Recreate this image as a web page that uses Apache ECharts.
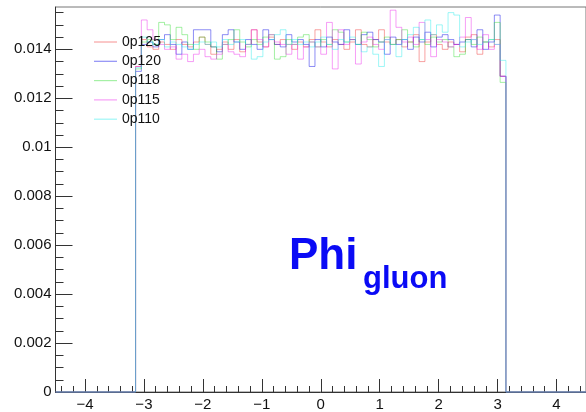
<!DOCTYPE html>
<html>
<head>
<meta charset="utf-8">
<script src="https://cdn.jsdelivr.net/npm/echarts@6/dist/echarts.min.js"></script>
<style>
  html, body { margin: 0; padding: 0; background: #ffffff; }
  #chart { width: 586px; height: 412px; }
</style>
</head>
<body>
<div id="chart"></div>
<script>
// Gluon azimuthal angle, normalised histograms for five samples (64 bins over -pi..pi)
const seriesNames = ['0p125', '0p120', '0p118', '0p115', '0p110'];
const seriesColors = ['rgba(240,50,50,0.45)', 'rgba(30,30,235,0.5)', 'rgba(40,220,40,0.42)', 'rgba(235,40,235,0.45)', 'rgba(40,235,235,0.45)'];

const phiLow = -Math.PI;
const phiHigh = Math.PI;
const nBins = 64;
const axisMin = -4.5;
const axisMax = 4.5;

const val0p125 = [
  0.01330, 0.01440, 0.01410, 0.01400, 0.01430, 0.01420, 0.01400, 0.01440, 0.01420, 0.01410,
  0.01430, 0.01450, 0.01420, 0.01380, 0.01400, 0.01430, 0.01400, 0.01440, 0.01390, 0.01420,
  0.01480, 0.01430, 0.01410, 0.01450, 0.01420, 0.01440, 0.01420, 0.01400, 0.01430, 0.01410,
  0.01440, 0.01480, 0.01430, 0.01410, 0.01440, 0.01420, 0.01400, 0.01430, 0.01480, 0.01420,
  0.01410, 0.01440, 0.01480, 0.01430, 0.01420, 0.01440, 0.01410, 0.01430, 0.01460, 0.01350,
  0.01430, 0.01460, 0.01420, 0.01400, 0.01430, 0.01420, 0.01390, 0.01450, 0.01460, 0.01380,
  0.01430, 0.01410, 0.01440, 0.01290
];
const val0p120 = [
  0.01310, 0.01420, 0.01430, 0.01410, 0.01440, 0.01460, 0.01420, 0.01380, 0.01430, 0.01400,
  0.01480, 0.01480, 0.01480, 0.01410, 0.01390, 0.01460, 0.01480, 0.01430, 0.01400, 0.01440,
  0.01420, 0.01400, 0.01480, 0.01440, 0.01420, 0.01410, 0.01460, 0.01430, 0.01440, 0.01420,
  0.01330, 0.01440, 0.01410, 0.01450, 0.01430, 0.01420, 0.01480, 0.01440, 0.01420, 0.01460,
  0.01470, 0.01440, 0.01430, 0.01380, 0.01450, 0.01420, 0.01440, 0.01400, 0.01450, 0.01430,
  0.01470, 0.01410, 0.01450, 0.01460, 0.01440, 0.01420, 0.01430, 0.01440, 0.01410, 0.01480,
  0.01400, 0.01430, 0.01540, 0.01290
];
const val0p118 = [
  0.01320, 0.01430, 0.01440, 0.01420, 0.01510, 0.01500, 0.01440, 0.01490, 0.01460, 0.01420,
  0.01400, 0.01450, 0.01430, 0.01410, 0.01360, 0.01420, 0.01440, 0.01480, 0.01430, 0.01410,
  0.01440, 0.01420, 0.01450, 0.01460, 0.01360, 0.01370, 0.01440, 0.01420, 0.01450, 0.01460,
  0.01430, 0.01410, 0.01440, 0.01420, 0.01480, 0.01470, 0.01430, 0.01440, 0.01420, 0.01470,
  0.01440, 0.01410, 0.01430, 0.01450, 0.01420, 0.01440, 0.01480, 0.01430, 0.01410, 0.01440,
  0.01420, 0.01450, 0.01430, 0.01440, 0.01410, 0.01370, 0.01380, 0.01440, 0.01420, 0.01450,
  0.01430, 0.01440, 0.01510, 0.01265
];
const val0p115 = [
  0.01330, 0.01520, 0.01480, 0.01440, 0.01420, 0.01400, 0.01410, 0.01360, 0.01380, 0.01350,
  0.01380, 0.01400, 0.01370, 0.01360, 0.01380, 0.01420, 0.01390, 0.01380, 0.01370, 0.01420,
  0.01480, 0.01440, 0.01410, 0.01460, 0.01430, 0.01420, 0.01380, 0.01420, 0.01360, 0.01410,
  0.01430, 0.01410, 0.01380, 0.01510, 0.01320, 0.01480, 0.01420, 0.01440, 0.01340, 0.01430,
  0.01450, 0.01420, 0.01400, 0.01440, 0.01560, 0.01490, 0.01430, 0.01450, 0.01420, 0.01510,
  0.01440, 0.01370, 0.01440, 0.01430, 0.01410, 0.01420, 0.01450, 0.01530, 0.01440, 0.01400,
  0.01460, 0.01400, 0.01420, 0.01290
];
const val0p110 = [
  0.01325, 0.01450, 0.01430, 0.01420, 0.01440, 0.01410, 0.01430, 0.01420, 0.01410, 0.01400,
  0.01420, 0.01430, 0.01420, 0.01430, 0.01410, 0.01440, 0.01420, 0.01430, 0.01440, 0.01420,
  0.01360, 0.01370, 0.01430, 0.01440, 0.01460, 0.01480, 0.01420, 0.01440, 0.01420, 0.01430,
  0.01410, 0.01430, 0.01450, 0.01420, 0.01400, 0.01440, 0.01430, 0.01450, 0.01420, 0.01390,
  0.01410, 0.01380, 0.01330, 0.01440, 0.01420, 0.01370, 0.01440, 0.01460, 0.01490, 0.01440,
  0.01520, 0.01460, 0.01500, 0.01470, 0.01550, 0.01540, 0.01410, 0.01430, 0.01440, 0.01420,
  0.01430, 0.01440, 0.01420, 0.01355
];
const allValues = [val0p125, val0p120, val0p118, val0p115, val0p110];

const xMajorTicks = [-4, -3, -2, -1, 0, 1, 2, 3, 4];
const yMajorTicks = [0, 0.002, 0.004, 0.006, 0.008, 0.01, 0.012, 0.014];

// minor tick positions: 0.2 on x, 0.0005 on y
const xMinorTicks = [];
for (let i = -22; i <= 22; i++) { if (i % 5 !== 0) xMinorTicks.push(i / 5); }
const yMinorTicks = [];
for (let i = 1; i <= 31; i++) { if (i % 4 !== 0) yMinorTicks.push(i * 0.0005); }

const FONT = '"Liberation Sans", Arial, Helvetica, sans-serif';
const AXIS_COLOR = '#333333';

// histogram outline as step points: empty range at zero, then one point per bin
function histPoints(vals) {
  const w = (phiHigh - phiLow) / nBins;
  const pts = [[axisMin, 0]];
  vals.forEach((v, i) => pts.push([phiLow + i * w, v]));
  pts.push([phiHigh, 0]);
  pts.push([axisMax, 0]);
  return pts;
}

const chart = echarts.init(document.getElementById('chart'), null, { renderer: 'canvas' });

const option = {
  animation: false,
  backgroundColor: '#ffffff',
  grid: {
    left: 55.5, top: 7, width: 540, bottom: 17,
    show: true, borderColor: '#777777', borderWidth: 1, backgroundColor: 'transparent'
  },
  legend: {
    orient: 'vertical',
    left: 94, top: 35, padding: 0,
    icon: 'rect',
    itemWidth: 23, itemHeight: 1.2, itemGap: 5.3,
    textStyle: { fontFamily: FONT, fontSize: 14, color: '#111111', lineHeight: 14 },
    data: seriesNames
  },
  xAxis: [
    {
      type: 'value', min: axisMin, max: axisMax,
      splitLine: { show: false },
      axisLine: { show: true, onZero: false, lineStyle: { color: AXIS_COLOR, width: 1 } },
      axisTick: { show: true, inside: true, length: 13, customValues: xMajorTicks, lineStyle: { color: AXIS_COLOR } },
      axisLabel: {
        show: true, customValues: xMajorTicks, margin: 5,
        fontFamily: FONT, fontSize: 15, color: '#111111',
        formatter: v => String(v).replace('-', '\u2212')
      }
    },
    {
      type: 'value', min: axisMin, max: axisMax, position: 'bottom',
      splitLine: { show: false },
      axisLine: { show: false, onZero: false },
      axisTick: { show: true, inside: true, length: 6, customValues: xMinorTicks, lineStyle: { color: AXIS_COLOR } },
      axisLabel: { show: false }
    }
  ],
  yAxis: [
    {
      type: 'value', min: 0, max: 0.01573,
      splitLine: { show: false },
      axisLine: { show: true, onZero: false, lineStyle: { color: AXIS_COLOR, width: 1 } },
      axisTick: { show: true, inside: true, length: 17, customValues: yMajorTicks, lineStyle: { color: AXIS_COLOR } },
      axisLabel: {
        show: true, customValues: yMajorTicks, margin: 4,
        fontFamily: FONT, fontSize: 15, color: '#111111',
        formatter: v => String(v)
      }
    },
    {
      type: 'value', min: 0, max: 0.01573, position: 'left',
      splitLine: { show: false },
      axisLine: { show: false, onZero: false },
      axisTick: { show: true, inside: true, length: 8, customValues: yMinorTicks, lineStyle: { color: AXIS_COLOR } },
      axisLabel: { show: false }
    }
  ],
  series: seriesNames.map((name, i) => ({
    name: name,
    type: 'line',
    step: 'end',
    xAxisIndex: 0,
    yAxisIndex: 0,
    symbol: 'none',
    clip: false,
    itemStyle: { color: seriesColors[i] },
    lineStyle: { color: seriesColors[i], width: 1 },
    data: histPoints(allValues[i])
  })),
  graphic: [
    {
      type: 'text', left: 289, top: 235,
      style: { text: 'Phi', font: 'bold 44px ' + FONT, fill: '#0a0af5' }
    },
    {
      type: 'text', left: 363, top: 264,
      style: { text: 'gluon', font: 'bold 31px ' + FONT, fill: '#0a0af5' }
    }
  ]
};

chart.setOption(option);
</script>
</body>
</html>
